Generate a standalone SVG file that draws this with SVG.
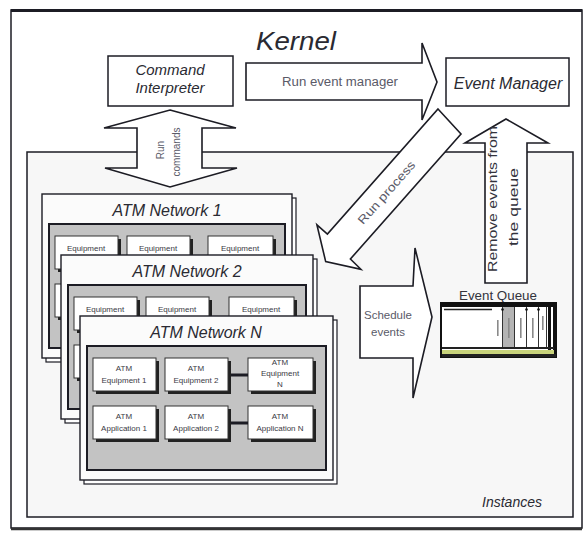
<svg xmlns="http://www.w3.org/2000/svg" width="585" height="538" viewBox="0 0 585 538">
  <defs>
    <style>
      .frame { fill: none; stroke: #1c1c24; }
      .box { fill: #fff; stroke: #1c1c24; stroke-width: 1.5; }
      .arrow { fill: #fff; stroke: #1c1c24; stroke-width: 1.6; stroke-linejoin: miter; }
      .title { font-family: "Liberation Sans", Arial, sans-serif; font-style: italic; fill: #2a2a32; }
      .lbl { font-family: "Liberation Sans", Arial, sans-serif; fill: #5a5a68; }
      .dark { font-family: "Liberation Sans", Arial, sans-serif; fill: #33333c; }
      .net { fill: #fbfbfb; stroke: #1c1c24; stroke-width: 1.4; }
      .netsh { fill: #fff; stroke: #1c1c24; stroke-width: 1.2; }
      .panel { fill: #c3c3c3; stroke: #1c1c24; stroke-width: 2; }
      .eq { fill: #fff; stroke: #333; stroke-width: 1; }
      .eqsh { fill: #222; }
      .tiny { font-family: "Liberation Sans", Arial, sans-serif; font-size: 8px; fill: #3a3a44; text-anchor: middle; }
      .link { stroke: #1c1c24; stroke-width: 3; }
      .qmark { fill: #8a8a8a; }
    </style>
  </defs>

  <rect width="585" height="538" fill="#fff"/>

  <!-- outer frame -->
  <rect class="frame" x="11" y="10" width="571" height="518" stroke-width="1.5"/>
  <line x1="11" y1="10.5" x2="582" y2="10.5" stroke="#1c1c24" stroke-width="3"/>
  <line x1="11" y1="529" x2="582" y2="529" stroke="#333" stroke-width="2.5"/>

  <!-- kernel label -->
  <g id="kernel-label">
    <text class="title" x="296" y="50" font-size="26" text-anchor="middle" textLength="80" lengthAdjust="spacingAndGlyphs">Kernel</text>
  </g>

  <!-- command interpreter -->
  <g id="command-interpreter">
    <rect class="box" x="108" y="56" width="125" height="50"/>
    <text class="title" x="170" y="75" font-size="15" text-anchor="middle">Command</text>
    <text class="title" x="170" y="93" font-size="15" text-anchor="middle">Interpreter</text>
  </g>

  <!-- event manager -->
  <g id="event-manager">
    <rect class="box" x="446" y="58" width="123" height="48"/>
    <text class="title" x="508" y="89" font-size="16" text-anchor="middle">Event Manager</text>
  </g>

  <!-- instances area -->
  <g id="instances">
    <rect x="27" y="152" width="546" height="365" fill="#f7f7f7" stroke="#1c1c24" stroke-width="1.5"/>
    <text class="title" x="512" y="507" font-size="14" text-anchor="middle">Instances</text>
  </g>

  <!-- ATM network 1 (partly covered) -->
  <g id="atm-network-1" transform="translate(42,194)">
    <rect class="netsh" x="4" y="4" width="250" height="164"/>
    <rect class="net" width="250" height="164"/>
    <text class="title" x="125" y="22" font-size="16" text-anchor="middle">ATM Network 1</text>
    <rect class="panel" x="7" y="30" width="236" height="124"/>
    <rect class="eqsh" x="16" y="45" width="63" height="33"/><rect class="eq" x="13" y="42" width="63" height="33"/>
    <rect class="eqsh" x="88" y="45" width="63" height="33"/><rect class="eq" x="85" y="42" width="63" height="33"/>
    <rect class="eqsh" x="169" y="45" width="65" height="33"/><rect class="eq" x="166" y="42" width="65" height="33"/>
    <text class="tiny" x="44" y="57">Equipment</text>
    <text class="tiny" x="116" y="57">Equipment</text>
    <text class="tiny" x="198" y="57">Equipment</text>
    <rect class="eqsh" x="16" y="93" width="63" height="33"/><rect class="eq" x="13" y="90" width="63" height="33"/>
  </g>

  <!-- ATM network 2 (partly covered) -->
  <g id="atm-network-2" transform="translate(61,255)">
    <rect class="netsh" x="4" y="4" width="252" height="164"/>
    <rect class="net" width="252" height="164"/>
    <text class="title" x="126" y="22" font-size="16" text-anchor="middle">ATM Network 2</text>
    <rect class="panel" x="7" y="30" width="238" height="124"/>
    <rect class="eqsh" x="16" y="45" width="63" height="33"/><rect class="eq" x="13" y="42" width="63" height="33"/>
    <rect class="eqsh" x="88" y="45" width="63" height="33"/><rect class="eq" x="85" y="42" width="63" height="33"/>
    <rect class="eqsh" x="171" y="45" width="65" height="33"/><rect class="eq" x="168" y="42" width="65" height="33"/>
    <text class="tiny" x="44" y="57">Equipment</text>
    <text class="tiny" x="116" y="57">Equipment</text>
    <text class="tiny" x="200" y="57">Equipment</text>
    <rect class="eqsh" x="16" y="93" width="63" height="33"/><rect class="eq" x="13" y="90" width="63" height="33"/>
  </g>

  <!-- ATM network N -->
  <g id="atm-network-n" transform="translate(80,316)">
    <rect class="netsh" x="4" y="4" width="253" height="164"/>
    <rect class="net" width="253" height="164"/>
    <text class="title" x="126" y="22" font-size="16" text-anchor="middle">ATM Network N</text>
    <rect class="panel" x="7" y="30" width="239" height="124"/>
    <g id="atm-equipment-1">
      <rect class="eqsh" x="16" y="45" width="63" height="33"/><rect class="eq" x="13" y="42" width="63" height="33"/>
      <text class="tiny" x="44" y="55">ATM</text>
      <text class="tiny" x="44" y="67">Equipment 1</text>
    </g>
    <g id="atm-equipment-2">
      <rect class="eqsh" x="88" y="45" width="63" height="33"/><rect class="eq" x="85" y="42" width="63" height="33"/>
      <text class="tiny" x="116" y="55">ATM</text>
      <text class="tiny" x="116" y="67">Equipment 2</text>
    </g>
    <g id="atm-equipment-n">
      <rect class="eqsh" x="171" y="45" width="65" height="33"/><rect class="eq" x="168" y="42" width="65" height="33"/>
      <text class="tiny" x="200" y="49">ATM</text>
      <text class="tiny" x="200" y="60">Equipment</text>
      <text class="tiny" x="200" y="71">N</text>
    </g>
    <g id="atm-application-1">
      <rect class="eqsh" x="16" y="93" width="63" height="33"/><rect class="eq" x="13" y="90" width="63" height="33"/>
      <text class="tiny" x="44" y="103">ATM</text>
      <text class="tiny" x="44" y="115">Application 1</text>
    </g>
    <g id="atm-application-2">
      <rect class="eqsh" x="88" y="93" width="63" height="33"/><rect class="eq" x="85" y="90" width="63" height="33"/>
      <text class="tiny" x="116" y="103">ATM</text>
      <text class="tiny" x="116" y="115">Application 2</text>
    </g>
    <g id="atm-application-n">
      <rect class="eqsh" x="171" y="93" width="65" height="33"/><rect class="eq" x="168" y="90" width="65" height="33"/>
      <text class="tiny" x="200" y="103">ATM</text>
      <text class="tiny" x="200" y="115">Application N</text>
    </g>
  </g>

  <!-- event queue -->
  <g id="event-queue">
    <text class="dark" x="498" y="300" font-size="12" text-anchor="middle" textLength="78" lengthAdjust="spacingAndGlyphs">Event Queue</text>
    <rect x="441" y="303" width="115" height="54" fill="#fff" stroke="#111" stroke-width="2"/>
    <rect x="441" y="303" width="115" height="4" fill="#111"/>
    <line x1="444" y1="309.5" x2="492" y2="309.5" stroke="#222" stroke-width="1.5"/>
    <rect x="503" y="307" width="11" height="40" fill="#b4b4b4"/>
    <g stroke="#333" stroke-width="1">
      <line x1="502.5" y1="307" x2="502.5" y2="347"/>
      <line x1="514.5" y1="307" x2="514.5" y2="347"/>
      <line x1="526.5" y1="307" x2="526.5" y2="347"/>
      <line x1="538.5" y1="307" x2="538.5" y2="347"/>
      <line x1="546.5" y1="307" x2="546.5" y2="347"/>
    </g>
    <circle cx="502.5" cy="309.5" r="1.3" fill="#111"/>
    <circle cx="526.5" cy="309.5" r="1.3" fill="#111"/>
    <circle cx="538.5" cy="309.5" r="1.3" fill="#111"/>
    <rect class="qmark" x="497" y="320" width="1.6" height="16"/>
    <rect class="qmark" x="508" y="318" width="1.6" height="20"/>
    <rect class="qmark" x="520" y="318" width="1.6" height="20"/>
    <rect class="qmark" x="532" y="318" width="1.6" height="20"/>
    <rect class="qmark" x="542" y="316" width="1.6" height="14"/>
    <rect x="548" y="305" width="3" height="50" fill="#111"/>
    <rect x="553" y="305" width="3" height="50" fill="#111"/>
    <rect x="442" y="347" width="112" height="2" fill="#222"/>
    <rect x="442" y="350" width="112" height="4" fill="#c9d47c"/>
    <rect x="442" y="354" width="114" height="3" fill="#222"/>
  </g>

  <!-- connectors -->
  <g id="connectors">
    <!-- links between equipment and applications -->
    <line class="link" x1="231" y1="375" x2="248" y2="375"/>
    <line class="link" x1="231" y1="423" x2="248" y2="423"/>

    <g id="run-event-manager">
      <polygon class="arrow" points="246,63 422,63 422,43 437,82 422,120 422,100 246,100"/>
      <text class="lbl" x="340" y="86" font-size="12" text-anchor="middle" textLength="116" lengthAdjust="spacingAndGlyphs">Run event manager</text>
    </g>

    <g id="run-commands">
      <polygon class="arrow" points="170,110 236,128 202,128 202,168 237,168 170,187 105,168 137,168 137,128 104,128"/>
      <text class="lbl" transform="translate(163.5,150) rotate(-90)" font-size="10" text-anchor="middle">Run</text>
      <text class="lbl" transform="translate(180,152) rotate(-90)" font-size="10" text-anchor="middle">commands</text>
    </g>

    <g id="run-process">
      <polygon class="arrow" points="438,109 461,134 350.4,259 360.9,269.3 325.7,261.6 316.9,224.8 327.4,234.1"/>
      <text class="lbl" transform="translate(386.6,192.7) rotate(-48.5)" font-size="12" text-anchor="middle" dy="4" textLength="80" lengthAdjust="spacingAndGlyphs">Run process</text>
    </g>

    <g id="remove-events">
      <polygon class="arrow" points="506,119 548,143 527,143 527,283 485,283 485,143 465,143"/>
      <text class="dark" transform="translate(497,199) rotate(-90)" font-size="12" text-anchor="middle" textLength="146" lengthAdjust="spacingAndGlyphs">Remove events from</text>
      <text class="dark" transform="translate(518,207) rotate(-90)" font-size="12" text-anchor="middle" textLength="78" lengthAdjust="spacingAndGlyphs">the queue</text>
    </g>

    <g id="schedule-events">
      <polygon class="arrow" points="360,286 413,286 415,248 432,317 413,398 413,358 360,358"/>
      <text class="lbl" x="388" y="319" font-size="11.5" text-anchor="middle">Schedule</text>
      <text class="lbl" x="388" y="336" font-size="11.5" text-anchor="middle">events</text>
    </g>
  </g>
</svg>
